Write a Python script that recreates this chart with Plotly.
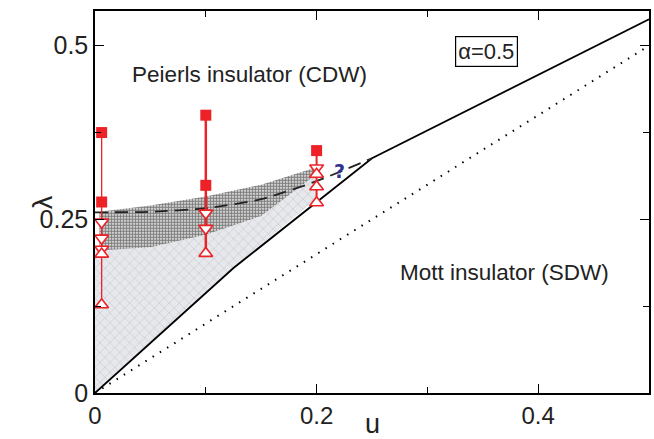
import plotly.graph_objects as go

# ---------------- data ----------------
# phase boundaries
solid_u = [0.0, 0.125, 0.25, 0.5]
solid_lam = [0.0, 0.18, 0.338, 0.538]

dotted_u = [0.0, 0.5]
dotted_lam = [0.0, 0.5]

dashed_u = [0.0, 0.05, 0.1, 0.15, 0.2, 0.25]
dashed_lam = [0.26, 0.261, 0.266, 0.279, 0.305, 0.338]

# dark stippled region (upper and lower boundaries)
stip_u = [0.004, 0.05, 0.1, 0.15, 0.2]
stip_upper = [0.261, 0.27, 0.283, 0.3, 0.325]
stip_lower = [0.205, 0.21, 0.228, 0.255, 0.315]

# light hatched region: left axis, lower stipple boundary, solid line
hatch_u = [0.0, 0.0, 0.004, 0.05, 0.1, 0.15, 0.2, 0.2, 0.125, 0.0]
hatch_lam = [0.0, 0.205, 0.205, 0.21, 0.228, 0.255, 0.315, 0.28, 0.18, 0.0]

# red data points
col_u = [0.006, 0.1, 0.2]
col_top = [0.375, 0.4, 0.349]
col_bot = [0.127, 0.201, 0.274]
col_width = [1.3, 2.5, 2.0]

sq_u = [0.006, 0.006, 0.1, 0.1, 0.2]
sq_lam = [0.375, 0.275, 0.4, 0.299, 0.349]

down_u = [0.006, 0.006, 0.006, 0.1, 0.1, 0.2]
down_lam = [0.246, 0.223, 0.207, 0.259, 0.237, 0.324]

up_u = [0.006, 0.006, 0.1, 0.2, 0.2, 0.2]
up_lam = [0.2, 0.127, 0.201, 0.315, 0.297, 0.274]

x_ticks = [0, 0.2, 0.4]
x_ticktext = ["0", "0.2", "0.4"]
y_ticks = [0, 0.25, 0.5]
y_ticktext = ["0", "0.25", "0.5"]

RED = "#EC2227"
FONT = "Liberation Sans, Arial, Helvetica, sans-serif"

fig = go.Figure()

# light hatched region
fig.add_trace(go.Scatter(
    x=hatch_u, y=hatch_lam, mode="lines", fill="toself",
    line=dict(width=0, color="rgba(0,0,0,0)"),
    fillcolor="rgba(255,255,255,0)",
    fillpattern=dict(shape="x", fgcolor="#9aa0ab", bgcolor="#e6e8ec",
                     size=7, solidity=0.15),
    hoverinfo="skip", showlegend=False))

# dark stippled region
fig.add_trace(go.Scatter(
    x=stip_u + stip_u[::-1], y=stip_upper + stip_lower[::-1],
    mode="lines", fill="toself",
    line=dict(width=0, color="rgba(0,0,0,0)"),
    fillcolor="rgba(255,255,255,0)",
    fillpattern=dict(shape=".", fgcolor="black", bgcolor="white",
                     size=3, solidity=0.7),
    hoverinfo="skip", showlegend=False))

# dotted line
fig.add_trace(go.Scatter(x=dotted_u, y=dotted_lam, mode="lines",
                         line=dict(color="black", width=2, dash="1.5px,7px"),
                         hoverinfo="skip", showlegend=False))
# solid line
fig.add_trace(go.Scatter(x=solid_u, y=solid_lam, mode="lines",
                         line=dict(color="black", width=1.8),
                         hoverinfo="skip", showlegend=False))
# dashed line
fig.add_trace(go.Scatter(x=dashed_u, y=dashed_lam, mode="lines",
                         line=dict(color="#222", width=1.8, dash="13px,7px",
                                   shape="spline", smoothing=0.6),
                         hoverinfo="skip", showlegend=False))

# red vertical lines
for u, t, b, w in zip(col_u, col_top, col_bot, col_width):
    fig.add_trace(go.Scatter(x=[u, u], y=[t, b], mode="lines",
                             line=dict(color=RED, width=w),
                             hoverinfo="skip", showlegend=False))

fig.add_trace(go.Scatter(x=sq_u, y=sq_lam, mode="markers",
                         marker=dict(symbol="square", size=11, color=RED,
                                     line=dict(width=0)),
                         showlegend=False))
fig.add_trace(go.Scatter(x=down_u, y=down_lam, mode="markers",
                         marker=dict(symbol="triangle-down", size=12,
                                     color="white",
                                     line=dict(width=1.6, color=RED)),
                         showlegend=False))
fig.add_trace(go.Scatter(x=up_u, y=up_lam, mode="markers",
                         marker=dict(symbol="triangle-up", size=12,
                                     color="white",
                                     line=dict(width=1.6, color=RED)),
                         showlegend=False))

axis_common = dict(
    showgrid=False, zeroline=False, showline=True, linecolor="black",
    linewidth=1.5, mirror="ticks", ticks="inside", ticklen=9, tickwidth=1.3,
    tickcolor="black",
)

fig.update_layout(
    width=654, height=439,
    margin=dict(l=95, r=3, t=11, b=46),
    paper_bgcolor="white", plot_bgcolor="white",
    xaxis=dict(range=[0, 0.5], tickvals=x_ticks, ticktext=x_ticktext,
               tickfont=dict(family=FONT, size=24, color="#222"),
               minor=dict(tickvals=[0.1, 0.3], ticks="inside", ticklen=6,
                          tickwidth=1.2, tickcolor="black"),
               **axis_common),
    yaxis=dict(range=[0, 0.55], tickvals=y_ticks, ticktext=y_ticktext,
               tickfont=dict(family=FONT, size=25, color="#222"),
               minor=dict(tickvals=[0.125, 0.375], ticks="inside", ticklen=6,
                          tickwidth=1.2, tickcolor="black"),
               **axis_common),
    font=dict(family=FONT, color="#222"),
)

fig.add_annotation(x=0.139, y=0.458, xref="x", yref="y",
                   text="Peierls insulator (CDW)", showarrow=False,
                   font=dict(family=FONT, size=22.5, color="#222"))
fig.add_annotation(x=0.37, y=0.174, xref="x", yref="y",
                   text="Mott insulator (SDW)", showarrow=False,
                   font=dict(family=FONT, size=22.5, color="#222"))
fig.add_annotation(x=0.3535, y=0.492, xref="x", yref="y",
                   text="α=0.5", showarrow=False,
                   font=dict(family=FONT, size=22, color="#222"),
                   bordercolor="black", borderwidth=1.2, borderpad=2,
                   bgcolor="white")
fig.add_annotation(x=0.221, y=0.319, xref="x", yref="y",
                   text="<b>?</b>", showarrow=False,
                   font=dict(family="DejaVu Sans, sans-serif", size=19,
                             color="#2E3192"))
fig.add_annotation(x=0.5, y=-0.08, xref="paper", yref="paper",
                   text="u", showarrow=False, yanchor="middle",
                   font=dict(family=FONT, size=27, color="#222"))
fig.add_annotation(x=-0.124, y=0.5, xref="paper", yref="paper",
                   text="λ", showarrow=False, textangle=-90,
                   font=dict(family=FONT, size=27, color="#222"))

fig.write_html("out.html")
